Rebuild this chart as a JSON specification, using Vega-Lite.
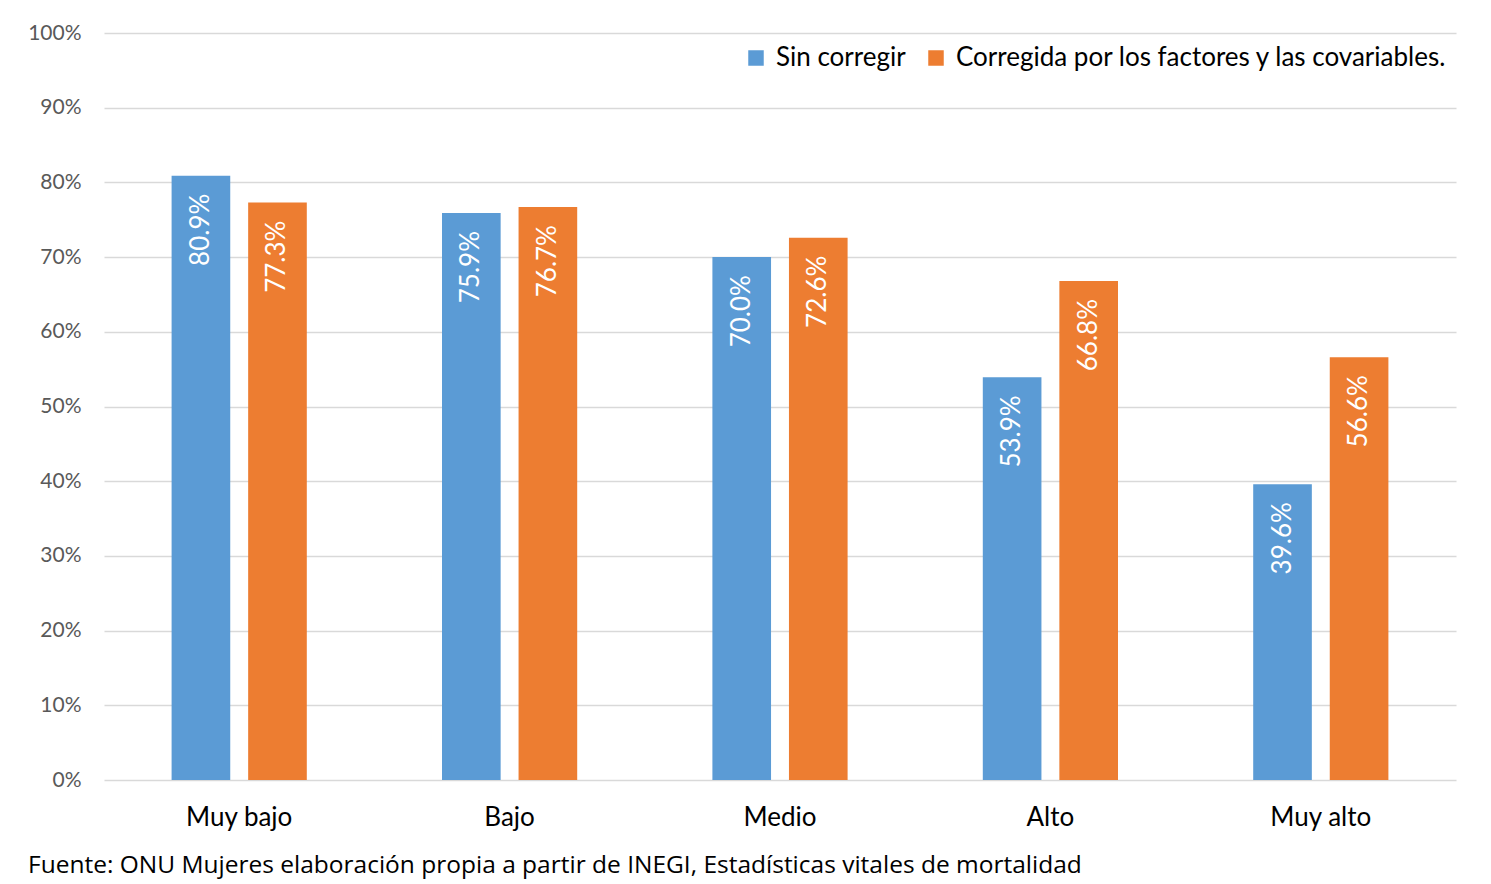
{
  "$schema": "https://vega.github.io/schema/vega-lite/v6.json",
  "autosize": "none",
  "width": 1352,
  "height": 747,
  "padding": {"left": 104, "top": 33, "right": 35, "bottom": 104},
  "background": "white",
  "config": {
    "font": "Lato",
    "view": {"stroke": null}
  },
  "title": {
    "text": "Fuente:  ONU Mujeres elaboración propia a partir de INEGI, Estadísticas vitales de mortalidad",
    "orient": "bottom",
    "anchor": "start",
    "frame": "group",
    "dx": -76,
    "offset": 24,
    "fontSize": 24.5,
    "fontWeight": "normal",
    "color": "#000000",
    "font": "Open Sans"
  },
  "data": {
    "values": [
      {"nivel": "Muy bajo", "serie": "Sin corregir", "valor": 0.809},
      {"nivel": "Muy bajo", "serie": "Corregida por los factores y las covariables.", "valor": 0.773},
      {"nivel": "Bajo", "serie": "Sin corregir", "valor": 0.759},
      {"nivel": "Bajo", "serie": "Corregida por los factores y las covariables.", "valor": 0.767},
      {"nivel": "Medio", "serie": "Sin corregir", "valor": 0.700},
      {"nivel": "Medio", "serie": "Corregida por los factores y las covariables.", "valor": 0.726},
      {"nivel": "Alto", "serie": "Sin corregir", "valor": 0.539},
      {"nivel": "Alto", "serie": "Corregida por los factores y las covariables.", "valor": 0.668},
      {"nivel": "Muy alto", "serie": "Sin corregir", "valor": 0.396},
      {"nivel": "Muy alto", "serie": "Corregida por los factores y las covariables.", "valor": 0.566}
    ]
  },
  "encoding": {
    "x": {
      "field": "nivel",
      "type": "nominal",
      "sort": ["Muy bajo", "Bajo", "Medio", "Alto", "Muy alto"],
      "scale": {"paddingInner": 0.5, "paddingOuter": 0.25},
      "axis": {
        "title": null,
        "labelAngle": 0,
        "labelFontSize": 26,
        "labelColor": "#000000",
        "labelPadding": 24,
        "ticks": false,
        "domain": false,
        "grid": false
      }
    },
    "xOffset": {
      "field": "serie",
      "type": "nominal",
      "sort": ["Sin corregir", "Corregida por los factores y las covariables."],
      "scale": {"paddingInner": 0.234, "paddingOuter": 0}
    },
    "y": {
      "field": "valor",
      "type": "quantitative",
      "scale": {"domain": [0, 1], "nice": false},
      "axis": {
        "title": null,
        "format": ".0%",
        "values": [0, 0.1, 0.2, 0.3, 0.4, 0.5, 0.6, 0.7, 0.8, 0.9, 1.0],
        "labelOverlap": false,
        "labelFontSize": 21,
        "labelColor": "#595959",
        "labelPadding": 23,
        "ticks": false,
        "domain": false,
        "grid": true,
        "gridColor": "#d9d9d9",
        "gridWidth": 1.5
      }
    }
  },
  "layer": [
    {
      "mark": {"type": "bar"},
      "encoding": {
        "color": {
          "field": "serie",
          "type": "nominal",
          "sort": ["Sin corregir", "Corregida por los factores y las covariables."],
          "scale": {
            "domain": ["Sin corregir", "Corregida por los factores y las covariables."],
            "range": ["#5B9BD5", "#ED7D31"]
          },
          "legend": {
            "title": null,
            "orient": "none",
            "legendX": 639,
            "legendY": 12,
            "direction": "horizontal",
            "symbolType": "square",
            "symbolSize": 240,
            "symbolStrokeWidth": 0,
            "labelFontSize": 26,
            "labelColor": "#000000",
            "labelLimit": 700,
            "columnPadding": 17,
            "labelOffset": 7
          }
        }
      }
    },
    {
      "mark": {
        "type": "text",
        "angle": 270,
        "align": "right",
        "baseline": "middle",
        "dx": -18,
        "fontSize": 26,
        "color": "white"
      },
      "encoding": {
        "text": {"field": "valor", "type": "quantitative", "format": ".1%"}
      }
    }
  ]
}
